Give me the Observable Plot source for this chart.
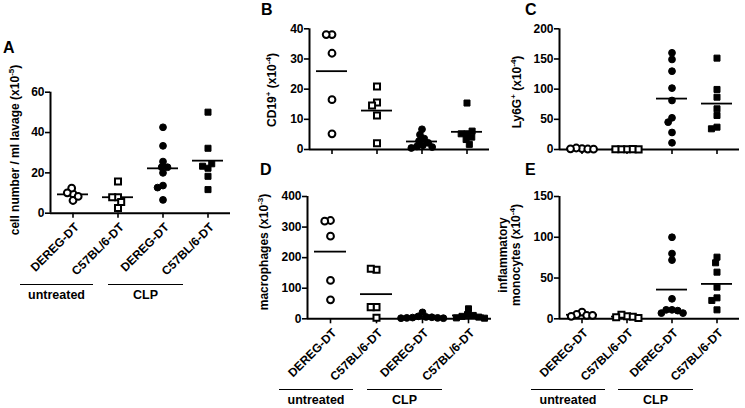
<!DOCTYPE html>
<html>
<head>
<meta charset="utf-8">
<script src="https://cdn.jsdelivr.net/npm/d3@7"></script>
<script src="https://cdn.jsdelivr.net/npm/@observablehq/plot@0.6"></script>
<style>
  body { margin: 0; background: #fff; }
  #wrap { position: relative; width: 745px; height: 408px; font-family: "Liberation Sans", Arial, sans-serif; font-weight: bold; color: #000; overflow: hidden; }
  #wrap svg { position: absolute; overflow: visible; }
  #wrap svg [aria-label$="tick"] { stroke-width: 1.6px; }
  .letter { position: absolute; font-size: 16px; line-height: 1; }
  .ylab { position: absolute; font-size: 12px; line-height: 1; white-space: nowrap; transform: translate(-50%, -50%) rotate(-90deg); text-align: center; }
  .ylab sup { font-size: 8px; vertical-align: 5px; line-height: 0; }
  .grp { position: absolute; font-size: 12.5px; line-height: 1; transform: translateX(-50%); white-space: nowrap; }
  .bar { position: absolute; height: 0; border-top: 1.6px solid #000; }
</style>
</head>
<body>
<div id="wrap"></div>
<script>
// ---- categories ----
const strains = ["DEREG-DT", "C57BL/6-DT", "DEREG-DT", "C57BL/6-DT"];
const treatments = ["untreated", "CLP"];

// ---- A: cell number / ml lavage (x10^-5) ----
const cellsUntreatedDereg = [9.6, 12.4, 10.1, 6.3, 8.3];
const cellsUntreatedB6 = [15.7, 7.9, 7.9, 5.5, 2.6];
const cellsClpDereg = [42.6, 33.4, 25.6, 22.8, 22.8, 20.0, 13.7, 12.7, 6.6];
const cellsClpB6 = [50.1, 32.2, 22.3, 23.3, 24.5, 18.3, 11.7];

// ---- B: CD19+ (x10^-4) ----
const cd19UntreatedDereg = [38.1, 38.1, 31.9, 16.5, 5.2];
const cd19UntreatedB6 = [20.9, 15.6, 14.6, 11.3, 2.1];
const cd19ClpDereg = [6.7, 4.9, 3.6, 2.8, 2.2, 1.4, 1.0, 0.8, 0.5];
const cd19ClpB6 = [15.4, 5.2, 5.2, 6.1, 4.1, 3.3, 1.7];

// ---- C: Ly6G+ (x10^-4) ----
const ly6gUntreatedDereg = [1.5, 2.5, 0.8, 1.2, 0.5];
const ly6gUntreatedB6 = [0.5, 0.3, 0.6, 0.4, 0.2];
const ly6gClpDereg = [160.2, 149.2, 129.8, 101.7, 81.2, 52.5, 45.3, 28.2, 11.1];
const ly6gClpB6 = [151.4, 99.5, 86.7, 67.4, 56.4, 37.0, 34.3];

// ---- D: macrophages (x10^-3) ----
const macUntreatedDereg = [321.5, 319.4, 270.3, 125.4, 62.1];
const macUntreatedB6 = [160.2, 163.5, 38.2, 38.2, 3.3];
const macClpDereg = [21, 8, 6, 5, 4, 3, 3, 2, 2];
const macClpB6 = [32.7, 14, 11, 8, 5.5, 3, 2];

// ---- E: inflammatory monocytes (x10^-4) ----
const monoUntreatedDereg = [8.2, 5.3, 4.1, 4.1, 3];
const monoUntreatedB6 = [3, 5, 2.5, 2, 1];
const monoClpDereg = [100, 80, 72, 24.5, 11, 11, 10, 7, 7];
const monoClpB6 = [75.6, 68.7, 57.2, 38.8, 25.7, 22.5, 11.0];

// ---- y-axis ticks ----
const ticksA = [0, 20, 40, 60];
const ticksB = [0, 10, 20, 30, 40];
const ticksC = [0, 50, 100, 150, 200];
const ticksD = [0, 100, 200, 300, 400];
const ticksE = [0, 50, 100, 150];

const groupStyles = [
  {symbol: "circle", fill: "white", sw: 2},
  {symbol: "square", fill: "white", sw: 2},
  {symbol: "circle", fill: "black", sw: 1},
  {symbol: "square", fill: "black", sw: 1}
];

const wrap = document.getElementById("wrap");
const hasAxisMarks = typeof Plot.axisFx === "function";

function panel({groups, ticks, left, top, width, height, mt, mr, mb, ml, labels}) {
  const rows = groups.flatMap((vals, g) => vals.map(v => ({g, v})));
  const yMin = ticks[0], yMax = ticks[ticks.length - 1];
  const fxOpts = {domain: [0, 1, 2, 3], padding: 0, label: null};
  const axisMarks = [];
  if (hasAxisMarks) {
    axisMarks.push(Plot.axisFx({anchor: "bottom", tickSize: 5, text: null, label: null}));
    if (labels) axisMarks.push(Plot.axisFx({anchor: "bottom", tickSize: 0, tickPadding: 12, tickRotate: -45, dx: 4,
      tickFormat: i => strains[i], label: null, fontSize: 12, fontWeight: "bold"}));
  } else {
    Object.assign(fxOpts, {tickSize: 5, tickPadding: labels ? 12 : 2, tickRotate: labels ? -45 : 0,
      tickFormat: labels ? (i => strains[i]) : (() => "")});
  }
  const svg = Plot.plot({
    width, height,
    marginTop: mt, marginRight: mr, marginBottom: mb, marginLeft: ml,
    style: {fontFamily: "'Liberation Sans', Arial, sans-serif", fontSize: "12px", fontWeight: "bold", color: "black", background: "transparent", overflow: "visible"},
    fx: fxOpts,
    x: {domain: [0, 1], axis: null},
    y: {domain: [yMin, yMax], ticks, label: null, tickSize: 5, tickPadding: 1},
    marks: [
      ...axisMarks,
      Plot.ruleY([yMin], {strokeWidth: 2}),
      Plot.ruleX([{g: 0, x: 0, y1: yMin, y2: yMax}], {fx: "g", x: "x", y1: "y1", y2: "y2", strokeWidth: 2}),
      Plot.tickY(rows, Plot.groupZ({y: "mean"}, {fx: "g", y: "v", insetLeft: 7, insetRight: 7, strokeWidth: 1.8})),
      ...groupStyles.map((s, i) => Plot.dot(rows.filter(d => d.g === i),
        Plot.dodgeX({anchor: "middle", padding: -1},
          {fx: "g", y: "v", r: 3.4, symbol: s.symbol, fill: s.fill, stroke: "black", strokeWidth: s.sw})))
    ]
  });
  svg.style.left = left + "px";
  svg.style.top = top + "px";
  wrap.appendChild(svg);
}

panel({groups: [cellsUntreatedDereg, cellsUntreatedB6, cellsClpDereg, cellsClpB6], ticks: ticksA,
  left: 0, top: 60, width: 240, height: 230, mt: 31.7, mr: 9, mb: 77.3, ml: 48, labels: true});
panel({groups: [cd19UntreatedDereg, cd19UntreatedB6, cd19ClpDereg, cd19ClpB6], ticks: ticksB,
  left: 240, top: 0, width: 255, height: 160, mt: 28.3, mr: 5, mb: 11, ml: 67, labels: false});
panel({groups: [ly6gUntreatedDereg, ly6gUntreatedB6, ly6gClpDereg, ly6gClpB6], ticks: ticksC,
  left: 495, top: 0, width: 250, height: 160, mt: 28.3, mr: 5, mb: 11, ml: 63, labels: false});
panel({groups: [macUntreatedDereg, macUntreatedB6, macClpDereg, macClpB6], ticks: ticksD,
  left: 240, top: 165, width: 255, height: 200, mt: 31, mr: 4, mb: 46.7, ml: 67, labels: true});
panel({groups: [monoUntreatedDereg, monoUntreatedB6, monoClpDereg, monoClpB6], ticks: ticksE,
  left: 495, top: 165, width: 250, height: 200, mt: 31, mr: 5, mb: 46.7, ml: 63, labels: true});

function addHTML(cls, html, x, y, extra) {
  const d = document.createElement("div");
  d.className = cls;
  d.innerHTML = html;
  d.style.left = x + "px";
  d.style.top = y + "px";
  if (extra) Object.assign(d.style, extra);
  wrap.appendChild(d);
}

// panel letters
addHTML("letter", "A", 3, 40);
addHTML("letter", "B", 261, 2);
addHTML("letter", "C", 525, 2);
addHTML("letter", "D", 260, 162);
addHTML("letter", "E", 525, 162);

// y-axis titles
addHTML("ylab", "cell number / ml lavage (x10<sup>-5</sup>)", 15, 150);
addHTML("ylab", "CD19<sup>+</sup> (x10<sup>-4</sup>)", 272, 90);
addHTML("ylab", "Ly6G<sup>+</sup> (x10<sup>-4</sup>)", 517, 92);
addHTML("ylab", "macrophages (x10<sup>-3</sup>)", 264, 252);
addHTML("ylab", "inflammatory<br>monocytes (x10<sup>-4</sup>)", 510, 255, {lineHeight: "13px"});

// treatment group brackets
const brackets = [
  {x1: 20, x2: 93, y: 284, ty: 288.5},
  {x1: 108, x2: 183, y: 284, ty: 288.5},
  {x1: 279, x2: 353, y: 389, ty: 394},
  {x1: 367, x2: 442, y: 389, ty: 394},
  {x1: 531, x2: 605, y: 389, ty: 394},
  {x1: 618, x2: 693, y: 389, ty: 394}
];
brackets.forEach((b, i) => {
  addHTML("bar", "", b.x1, b.y, {width: (b.x2 - b.x1) + "px"});
  addHTML("grp", treatments[i % 2], (b.x1 + b.x2) / 2, b.ty);
});
</script>
</body>
</html>
